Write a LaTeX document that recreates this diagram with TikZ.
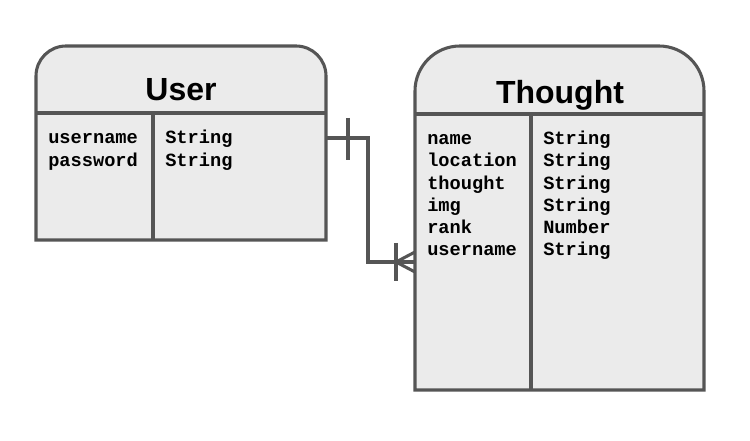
\documentclass[tikz,border=0pt]{standalone}
\usepackage{fontspec}
\setmainfont{Liberation Sans}
\setmonofont{Liberation Mono}
\usepackage{tikz}
\definecolor{boxgray}{HTML}{EBEBEB}
\definecolor{linegray}{HTML}{555555}

\begin{document}
\begin{tikzpicture}[x=0.75pt,y=-0.75pt,
  title/.style={anchor=base,inner sep=0pt,font=\bfseries\fontsize{24}{28}\selectfont},
  field/.style={anchor=base west,inner sep=0pt,font=\ttfamily\bfseries\fontsize{14}{16}\selectfont},
  frame/.style={draw=linegray,line width=2.3pt,fill=boxgray},
  edge/.style={draw=linegray,line width=2.3pt}]
  \useasboundingbox (0,0) rectangle (750,441);
  % User table
  \draw[frame] (36,240) -- (36,76) arc[start angle=180,end angle=270,radius=30] -- (296,46)
    arc[start angle=270,end angle=360,radius=30] -- (326,240) -- cycle;
  \draw[edge] (36,113) -- (326,113);
  \draw[edge] (153,113) -- (153,240);
  \node[title] (user) at (181,101) {User};
  \node[field] (u1) at (48,144) {username};
  \node[field] (u2) at (48,166.3) {password};
  \node[field] (u1t) at (165,144) {String};
  \node[field] (u2t) at (165,166.3) {String};
  % Thought table
  \draw[frame] (415,390) -- (415,91) arc[start angle=180,end angle=270,radius=45] -- (659,46)
    arc[start angle=270,end angle=360,radius=45] -- (704,390) -- cycle;
  \draw[edge] (415,114) -- (704,114);
  \draw[edge] (531,114) -- (531,390);
  \node[title] (thought) at (560,104) {Thought};
  \node[field] (t1) at (427,144.5) {name};
  \node[field] (t2) at (427,166.8) {location};
  \node[field] (t3) at (427,189.1) {thought};
  \node[field] (t4) at (427,211.4) {img};
  \node[field] (t5) at (427,233.7) {rank};
  \node[field] (t6) at (427,256) {username};
  \node[field] (t1t) at (543,144.5) {String};
  \node[field] (t2t) at (543,166.8) {String};
  \node[field] (t3t) at (543,189.1) {String};
  \node[field] (t4t) at (543,211.4) {String};
  \node[field] (t5t) at (543,233.7) {Number};
  \node[field] (t6t) at (543,256) {String};
  % relation: one user, many thoughts
  \coordinate (userout) at (326,138);
  \coordinate (thoughtin) at (415,262);
  \draw[edge] (userout) -- ++(42,0) |- (thoughtin);
  \draw[edge] (348,118) -- (348,160);
  \draw[edge] (396,243) -- (396,281);
  \draw[edge,line join=round] (415,252) -- (396,262) -- (415,272);
\end{tikzpicture}
\end{document}
